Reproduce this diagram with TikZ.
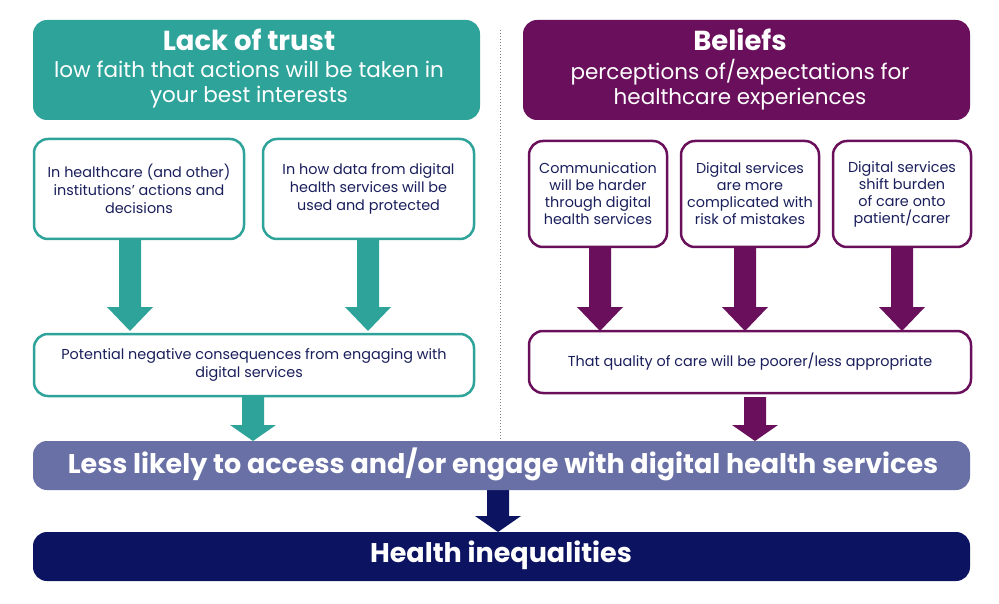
\documentclass[tikz,border=0pt]{standalone}
\usepackage{fontspec}
\setmainfont{Poppins}
\definecolor{teal1}{HTML}{2EA39A}
\definecolor{purp}{HTML}{6A0F5C}
\definecolor{slate}{HTML}{6870A6}
\definecolor{navy}{HTML}{0C1462}
\definecolor{txt}{HTML}{1A1F5C}
\begin{document}
\begin{tikzpicture}[x=1pt,y=-1pt,
 tbox/.style={draw=teal1,line width=2.5pt,fill=white,rounded corners=14pt,text=txt,align=center,font=\fontsize{14.4}{18}\selectfont},
 pbox/.style={draw=purp,line width=2.5pt,fill=white,rounded corners=14pt,text=txt,align=center,font=\fontsize{14.4}{17}\selectfont},
 bar/.style={text=white,font=\bfseries\fontsize{27}{30}\selectfont}]
\useasboundingbox (0,0) rectangle (999,604);
\newcommand{\blockarrow}[5]{% x, y1, y2, color, headlen
 \fill[#4] (#1-11,#2) -- (#1+11,#2) -- (#1+11,#3-#5) -- (#1+23,#3-#5) -- (#1,#3) -- (#1-23,#3-#5) -- (#1-11,#3-#5) -- cycle;}
\draw[dotted,gray,line width=1pt] (500,30) -- (500,440);
\fill[teal1,rounded corners=14pt] (33,20) rectangle (480,120);
\node[text=white] (h1) at (249,40) {\bfseries\fontsize{27.5}{30}\selectfont Lack of trust};
\node[text=white,align=center,font=\fontsize{21.5}{25}\selectfont] (s1) at (249,85) {low faith that actions will be taken in\\your best interests};
\fill[purp,rounded corners=14pt] (523,20) rectangle (970,120);
\node[text=white] (h2) at (740,40) {\bfseries\fontsize{27.5}{30}\selectfont Beliefs};
\node[text=white,align=center,font=\fontsize{21.5}{25}\selectfont] (s2) at (740,85) {perceptions of/expectations for\\healthcare experiences};
\blockarrow{130}{240}{331}{teal1}{24}
\blockarrow{368}{240}{331}{teal1}{24}
\blockarrow{600}{248}{331}{purp}{24}
\blockarrow{745}{248}{331}{purp}{24}
\blockarrow{902}{248}{331}{purp}{24}
\blockarrow{253}{397}{441}{teal1}{16}
\blockarrow{755}{397}{441}{purp}{16}
\blockarrow{498}{490}{532}{navy}{16}
\node[tbox,minimum width=210pt,minimum height=100pt] (t1) at (139,189) {In healthcare (and other)\\institutions' actions and\\decisions};
\node[tbox,minimum width=211pt,minimum height=100pt] (t2) at (368.5,189) {In how data from digital\\health services will be\\used and protected};
\node[pbox,minimum width=138pt,minimum height=106pt] (p1) at (598,194) {Communication\\will be harder\\through digital\\health services};
\node[pbox,minimum width=138pt,minimum height=106pt] (p2) at (750,194) {Digital services\\are more\\complicated with\\risk of mistakes};
\node[pbox,minimum width=138pt,minimum height=106pt] (p3) at (902,194) {Digital services\\shift burden\\of care onto\\patient/carer};
\node[tbox,minimum width=440pt,minimum height=62pt] (t3) at (254,365) {Potential negative consequences from engaging with\\digital services\phantom{p}};
\node[pbox,minimum width=442pt,minimum height=62pt] (p4) at (750,362) {That quality of care will be poorer/less appropriate};
\fill[slate,rounded corners=14pt] (33,441) rectangle (970,490);
\node[bar] (b1) at (503,464) {Less likely to access and/or engage with digital health services};
\fill[navy,rounded corners=14pt] (33,532) rectangle (970,581);
\node[bar] (b2) at (501,555) {Health inequalities};
\end{tikzpicture}
\end{document}
